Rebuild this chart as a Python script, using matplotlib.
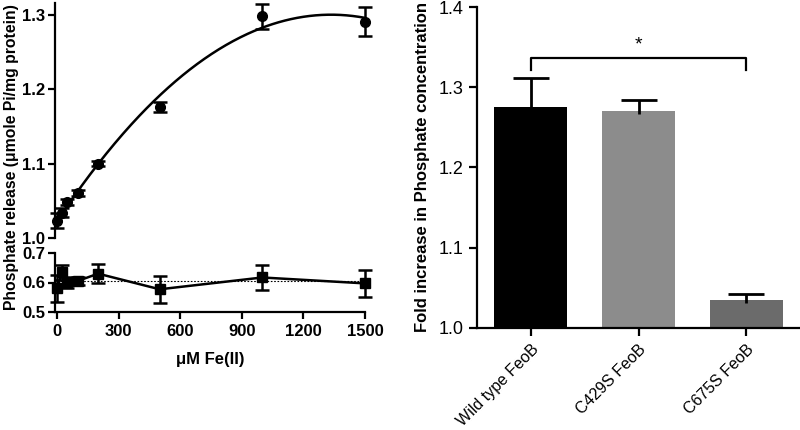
import numpy as np
import matplotlib
matplotlib.use("Agg")
import matplotlib.pyplot as plt

plt.rcParams['font.family'] = ['Liberation Sans', 'DejaVu Sans']

# ---- data: left panel ----
fe_conc = [0, 25, 50, 100, 200, 500, 1000, 1500]
wt_release = [1.023, 1.034, 1.049, 1.060, 1.100, 1.176, 1.298, 1.291]
wt_err = [0.010, 0.006, 0.004, 0.004, 0.003, 0.007, 0.017, 0.020]
mut_release = [0.580, 0.635, 0.600, 0.605, 0.630, 0.577, 0.617, 0.597]
mut_err = [0.045, 0.025, 0.020, 0.015, 0.032, 0.046, 0.042, 0.047]
left_xticks = [0, 300, 600, 900, 1200, 1500]
top_yticks = [1.0, 1.1, 1.2, 1.3]
bot_yticks = [0.5, 0.6, 0.7]

# ---- data: right panel ----
variants = ["Wild type FeoB", "C429S FeoB", "C675S FeoB"]
fold_increase = [1.275, 1.271, 1.035]
fold_err = [0.036, 0.013, 0.007]
bar_colors = ["#000000", "#8c8c8c", "#6b6b6b"]
right_yticks = [1.0, 1.1, 1.2, 1.3, 1.4]

fig = plt.figure(figsize=(8, 4.3), dpi=100)
W, H = 800, 430

def ax_px(l, t, r, b):
    return fig.add_axes([l / W, 1 - b / H, (r - l) / W, (b - t) / H])

ax_top = ax_px(55, 3, 365, 238)
ax_bot = ax_px(55, 253, 365, 312)

for ax in (ax_top, ax_bot):
    ax.set_xlim(-10, 1500)
    for s in ("top", "right"):
        ax.spines[s].set_visible(False)
    ax.spines["left"].set_linewidth(1.6)
    ax.tick_params(width=1.6, length=5, labelsize=12, pad=2)

ax_top.spines["bottom"].set_visible(False)
ax_top.set_xticks([])
ax_top.set_ylim(1.0, 1.316)
ax_top.set_yticks(top_yticks)
ax_top.set_yticklabels([f"{v:.1f}" for v in top_yticks], fontweight="bold")

coef = np.polyfit(fe_conc, wt_release, 2)
xs = np.linspace(0, 1500, 300)
ax_top.plot(xs, np.polyval(coef, xs), color="black", lw=1.8, zorder=2)
ax_top.errorbar(fe_conc, wt_release, yerr=wt_err, fmt="o", color="black",
                ms=7, capsize=5, elinewidth=1.8, capthick=1.8, zorder=3,
                clip_on=False)

ax_bot.set_ylim(0.5, 0.7)
ax_bot.set_yticks(bot_yticks)
ax_bot.set_yticklabels([f"{v:.1f}" for v in bot_yticks], fontweight="bold")
ax_bot.set_xticks(left_xticks)
ax_bot.set_xticklabels([str(v) for v in left_xticks], fontweight="bold")
ax_bot.tick_params(axis="x", pad=4)
ax_bot.spines["bottom"].set_linewidth(1.6)
ax_bot.plot([0, 1500], [np.mean(mut_release)] * 2, color="black", lw=0.8,
            ls=(0, (1.5, 1.5)), zorder=1)
ax_bot.errorbar(fe_conc, mut_release, yerr=mut_err, fmt="-s", color="black",
                ms=7.5, capsize=5, elinewidth=1.8, capthick=1.8, lw=1.8,
                zorder=3, clip_on=False)
ax_bot.set_xlabel("\u03bcM Fe(II)", fontweight="bold", fontsize=12, labelpad=9)

fig.text(12 / W, 1 - 157 / H, "Phosphate release (\u03bcmole Pi/mg protein)",
         rotation=90, ha="center", va="center", fontsize=11.3, fontweight="bold")

# right panel
ax_r = ax_px(477, 7, 800, 328)
x = np.arange(len(variants))
ax_r.bar(x, [v - 1.0 for v in fold_increase], bottom=1.0, width=0.68,
         color=bar_colors, zorder=2)
eb = ax_r.errorbar(x, fold_increase, yerr=[[0.004] * 3, fold_err], fmt="none",
                   ecolor="black", capsize=13, elinewidth=2, capthick=2, zorder=3)
eb[1][0].set_visible(False)
ax_r.set_xlim(-0.5, 2.5)
ax_r.set_ylim(1.0, 1.4)
ax_r.set_yticks(right_yticks)
ax_r.set_yticklabels([f"{v:.1f}" for v in right_yticks])
ax_r.set_xticks(x)
ax_r.set_xticklabels(variants, rotation=45, ha="right", rotation_mode="anchor")
for s in ("top", "right"):
    ax_r.spines[s].set_visible(False)
for s in ("left", "bottom"):
    ax_r.spines[s].set_linewidth(1.6)
ax_r.tick_params(width=1.6, length=6, labelsize=13)
ax_r.tick_params(axis="x", labelsize=11.5, pad=4)
ax_r.set_ylabel("Fold increase in Phosphate concentration", fontweight="bold",
                fontsize=12, labelpad=6)

# significance bracket
yb, yt = 1.321, 1.336
ax_r.plot([0, 0, 2, 2], [yb, yt, yt, yb], color="black", lw=1.6)
ax_r.text(1, yt + 0.006, "*", ha="center", va="bottom", fontsize=14)

fig.savefig("out.png", dpi=100)
